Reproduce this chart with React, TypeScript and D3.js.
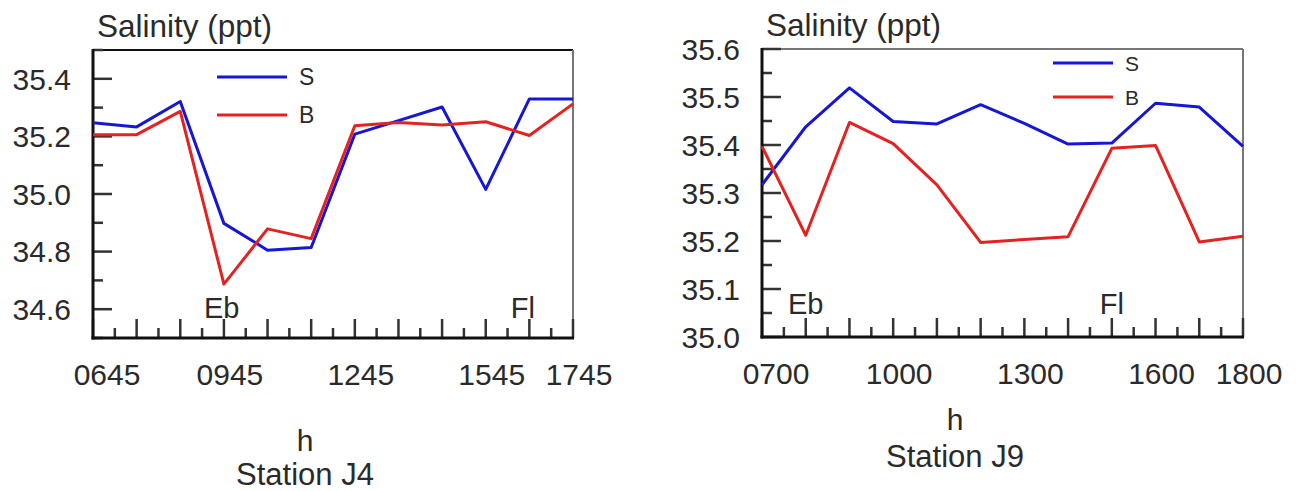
import { useEffect, useRef } from 'react';
import * as d3 from 'd3';

// Station J4 (hourly, 06:45 - 17:45)
const j4Times = ['0645', '0745', '0845', '0945', '1045', '1145', '1245', '1345', '1445', '1545', '1645', '1745'];
const j4Surface = [35.247, 35.233, 35.321, 34.898, 34.805, 34.814, 35.208, 35.255, 35.302, 35.016, 35.33, 35.33];
const j4Bottom = [35.206, 35.206, 35.287, 34.687, 34.879, 34.845, 35.237, 35.248, 35.24, 35.251, 35.203, 35.313];
const j4TickLabels = ['0645', '0945', '1245', '1545', '1745'];

// Station J9 (hourly, 07:00 - 18:00)
const j9Times = ['0700', '0800', '0900', '1000', '1100', '1200', '1300', '1400', '1500', '1600', '1700', '1800'];
const j9Surface = [35.317, 35.438, 35.519, 35.449, 35.444, 35.484, 35.445, 35.402, 35.404, 35.487, 35.479, 35.397];
const j9Bottom = [35.397, 35.212, 35.447, 35.403, 35.317, 35.197, 35.203, 35.209, 35.393, 35.399, 35.198, 35.21];
const j9TickLabels = ['0700', '1000', '1300', '1600', '1800'];

const seriesNames = ['S', 'B'];
const seriesColors = ['#1616d4', '#e32222'];

const FONT = '"Liberation Sans", Arial, sans-serif';
const TEXT = '#2a2a2a';

const toHours = (s: string) => +s.slice(0, 2) + +s.slice(2) / 60;

interface PanelConfig {
  left: number;
  top: number;
  width: number;
  height: number;
  times: string[];
  surface: number[];
  bottom: number[];
  tickLabels: string[];
  yDomain: [number, number];
  yStep: number;
  ebTime: number;
  flTime: number;
  markBaseline: number;
  legendX: number;
  legendY: number;
  legendGap: number;
  legendLen: number;
  legendFont: number;
  topColor: string;
  hX: number;
  hY: number;
  station: string;
  stationY: number;
}

function drawPanel(svg: d3.Selection<SVGSVGElement, unknown, null, undefined>, c: PanelConfig) {
  const hours = c.times.map(toHours);
  const x = d3.scaleLinear()
    .domain([hours[0], hours[hours.length - 1]])
    .range([c.left, c.left + c.width]);
  const y = d3.scaleLinear()
    .domain(c.yDomain)
    .range([c.top + c.height, c.top]);

  const g = svg.append('g');

  // frame: top + right lighter
  g.append('line')
    .attr('x1', c.left).attr('x2', c.left + c.width)
    .attr('y1', c.top).attr('y2', c.top)
    .attr('stroke', c.topColor).attr('stroke-width', 2);
  g.append('line')
    .attr('x1', c.left + c.width).attr('x2', c.left + c.width)
    .attr('y1', c.top).attr('y2', c.top + c.height)
    .attr('stroke', '#777').attr('stroke-width', 2);

  // y ticks (inside)
  const yTicks = d3.range(c.yDomain[0], c.yDomain[1] + c.yStep / 2, c.yStep);
  yTicks.forEach(v => {
    const isMajor = Math.round(v / c.yStep) % 2 === 0;
    g.append('line')
      .attr('x1', c.left).attr('x2', c.left + (isMajor ? 19 : 10))
      .attr('y1', y(v)).attr('y2', y(v))
      .attr('stroke', '#333').attr('stroke-width', 2.5);
    if (isMajor) {
      g.append('text')
        .attr('x', c.left - 22)
        .attr('y', y(v))
        .attr('dy', '0.36em')
        .attr('text-anchor', 'end')
        .attr('font-family', FONT)
        .attr('font-size', 30)
        .attr('fill', TEXT)
        .text(d3.format('.1f')(v));
    }
  });

  // x ticks (inside), half-hourly, long on the hour marks
  const xTicks = d3.range(hours[0], hours[hours.length - 1] + 0.25, 0.5);
  xTicks.forEach((h, i) => {
    g.append('line')
      .attr('x1', x(h)).attr('x2', x(h))
      .attr('y1', c.top + c.height).attr('y2', c.top + c.height - (i % 2 === 0 ? 19 : 10))
      .attr('stroke', '#333').attr('stroke-width', 2.5);
  });
  c.tickLabels.forEach((lbl, i) => {
    g.append('text')
      .attr('x', x(toHours(lbl)) + (i === 0 ? 14 : 6))
      .attr('y', c.top + c.height + 47)
      .attr('text-anchor', 'middle')
      .attr('font-family', FONT)
      .attr('font-size', 30)
      .attr('fill', TEXT)
      .text(lbl);
  });

  // axes lines
  g.append('line')
    .attr('x1', c.left).attr('x2', c.left)
    .attr('y1', c.top - 1).attr('y2', c.top + c.height + 1.5)
    .attr('stroke', '#111').attr('stroke-width', 3);
  g.append('line')
    .attr('x1', c.left - 1.5).attr('x2', c.left + c.width + 1)
    .attr('y1', c.top + c.height).attr('y2', c.top + c.height)
    .attr('stroke', '#111').attr('stroke-width', 3);

  // title
  g.append('text')
    .attr('x', c.left + 4)
    .attr('y', c.top - 13)
    .attr('font-family', FONT)
    .attr('font-size', 31.5)
    .attr('fill', TEXT)
    .text('Salinity (ppt)');

  // lines
  const line = d3.line<number>()
    .x((d, i) => x(hours[i]))
    .y(d => y(d));

  [c.surface, c.bottom].forEach((vals, k) => {
    g.append('path')
      .attr('d', line(vals) || '')
      .attr('fill', 'none')
      .attr('stroke', seriesColors[k])
      .attr('stroke-width', 3)
      .attr('stroke-linejoin', 'round');
  });

  // legend
  seriesNames.forEach((name, k) => {
    const ly = c.legendY + k * c.legendGap;
    g.append('line')
      .attr('x1', c.legendX).attr('x2', c.legendX + c.legendLen)
      .attr('y1', ly).attr('y2', ly)
      .attr('stroke', seriesColors[k])
      .attr('stroke-width', 3);
    g.append('text')
      .attr('x', c.legendX + c.legendLen + 12)
      .attr('y', ly)
      .attr('dy', '0.36em')
      .attr('font-family', FONT)
      .attr('font-size', c.legendFont)
      .attr('fill', TEXT)
      .text(name);
  });

  // tide annotations
  [['Eb', c.ebTime], ['Fl', c.flTime]].forEach(([t, h]) => {
    g.append('text')
      .attr('x', x(h as number))
      .attr('y', c.markBaseline)
      .attr('text-anchor', 'middle')
      .attr('font-family', FONT)
      .attr('font-size', 29)
      .attr('fill', TEXT)
      .text(t as string);
  });

  // axis label + station
  g.append('text')
    .attr('x', c.hX)
    .attr('y', c.hY)
    .attr('text-anchor', 'middle')
    .attr('font-family', FONT)
    .attr('font-size', 30)
    .attr('fill', TEXT)
    .text('h');
  g.append('text')
    .attr('x', c.hX)
    .attr('y', c.stationY)
    .attr('text-anchor', 'middle')
    .attr('font-family', FONT)
    .attr('font-size', 31)
    .attr('fill', TEXT)
    .text(c.station);
}

export default function App() {
  const svgRef = useRef<SVGSVGElement>(null);

  useEffect(() => {
    if (!svgRef.current) return;
    const svg = d3.select(svgRef.current);
    svg.selectAll('*').remove();

    drawPanel(svg, {
      left: 93, top: 50, width: 480, height: 288,
      times: j4Times, surface: j4Surface, bottom: j4Bottom, tickLabels: j4TickLabels,
      yDomain: [34.5, 35.5], yStep: 0.1,
      ebTime: 9.7, flTime: 16.6, markBaseline: 318,
      legendX: 217, legendY: 77, legendGap: 38, legendLen: 70, legendFont: 23,
      topColor: '#111',
      hX: 305, hY: 451, station: 'Station J4', stationY: 485,
    });

    drawPanel(svg, {
      left: 762, top: 49, width: 481, height: 288,
      times: j9Times, surface: j9Surface, bottom: j9Bottom, tickLabels: j9TickLabels,
      yDomain: [35.0, 35.6], yStep: 0.05,
      ebTime: 8.0, flTime: 15.0, markBaseline: 314,
      legendX: 1053, legendY: 63, legendGap: 34, legendLen: 60, legendFont: 21,
      topColor: '#777',
      hX: 955, hY: 430, station: 'Station J9', stationY: 467,
    });
  }, []);

  return (
    <svg
      ref={svgRef}
      width={1300}
      height={491}
      style={{ position: 'absolute', left: 0, top: 0, background: '#fff' }}
    />
  );
}
